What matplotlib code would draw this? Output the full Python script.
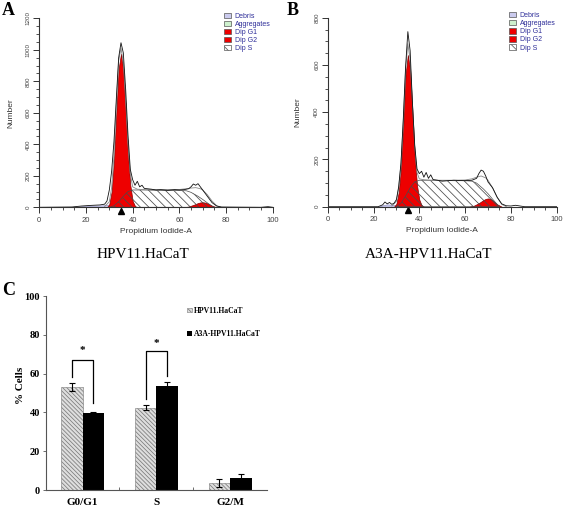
import numpy as np
import matplotlib
matplotlib.use('Agg')
import matplotlib.pyplot as plt
from matplotlib.patches import Patch
from matplotlib.ticker import MultipleLocator, FixedLocator

plt.rcParams['hatch.linewidth'] = 0.55

# ---- flow cytometry histograms ----
g1_x = [29, 30, 31, 32, 33, 34, 35, 36, 37, 38, 39, 40, 41, 42]
s_x = [30, 32, 34, 36, 38, 40, 45, 50, 55, 60, 63, 65, 68, 70, 72, 74, 75]
g2_x = [62, 64, 66, 68, 69, 70, 71, 72, 74, 76]
fit_x = [28, 30, 31, 32, 33, 34, 35, 36, 37, 38, 39, 40, 42, 45, 50, 55, 60,
         63, 65, 67, 69, 70, 72, 74, 76, 78]

# panel A : HPV11.HaCaT
a_g1 = [0, 20, 100, 300, 600, 880, 975, 870, 620, 340, 140, 40, 8, 0]
a_s = [0, 10, 35, 70, 100, 110, 110, 108, 107, 106, 105, 95, 70, 50, 28, 8, 0]
a_g2 = [0, 5, 15, 27, 31, 32, 30, 25, 10, 0]
a_deb_x = [14, 18, 22, 26, 30, 34, 38, 40]
a_deb = [0, 6, 10, 12, 14, 10, 4, 0]
a_fit = [5, 35, 125, 330, 650, 930, 1010, 920, 680, 400, 210, 130, 115, 112,
         112, 112, 113, 118, 122, 125, 118, 110, 80, 40, 10, 0]
a_env_x = [0, 14, 18, 22, 26, 28, 29, 30, 31, 32, 33, 34, 35, 36, 37, 38, 39,
           40, 41, 42, 43, 44, 45, 48, 50, 52, 55, 58, 60, 62, 64, 65, 66, 67,
           68, 69, 70, 72, 74, 76, 78, 85, 95, 98, 100]
a_env = [0, 2, 8, 12, 15, 20, 40, 110, 230, 420, 690, 950, 1045, 980, 750, 460,
         240, 175, 140, 165, 130, 140, 120, 115, 110, 112, 108, 112, 110, 112,
         118, 130, 148, 140, 150, 130, 110, 70, 30, 8, 2, 1, 0, 4, 0]

# panel B : A3A-HPV11.HaCaT
b_g1 = [0, 12, 60, 160, 340, 560, 642, 580, 400, 215, 90, 30, 6, 0]
b_s = [0, 15, 45, 80, 105, 112, 112, 111, 110, 110, 108, 100, 75, 55, 32, 10, 0]
b_g2 = [0, 5, 15, 28, 33, 35, 33, 27, 10, 0]
b_deb_x = [22, 24, 26, 28, 30, 32, 34]
b_deb = [0, 6, 10, 8, 6, 3, 0]
b_fit = [3, 22, 80, 180, 360, 580, 690, 620, 440, 255, 145, 118, 114, 112,
         112, 112, 113, 118, 125, 130, 122, 112, 80, 40, 10, 0]
b_env_x = [0, 22, 24, 25, 26, 27, 28, 29, 30, 31, 32, 33, 34, 35, 36, 37, 38,
           39, 40, 41, 42, 43, 44, 45, 46, 48, 50, 55, 60, 63, 65, 66, 67, 68,
           69, 70, 72, 74, 76, 78, 80, 82, 84, 86, 100]
b_env = [0, 0, 8, 20, 12, 18, 10, 15, 30, 85, 185, 370, 590, 741, 660, 440,
         260, 160, 140, 150, 125, 145, 120, 135, 115, 112, 108, 112, 110, 112,
         120, 140, 155, 150, 130, 105, 80, 40, 12, 4, 3, 6, 3, 0, 0]

g1_mark = 35
legend_labels = ['Debris', 'Aggregates', 'Dip G1', 'Dip G2', 'Dip S']

# ---- cell cycle bars ----
phases = ['G0/G1', 'S', 'G2/M']
hpv = [53.0, 42.5, 3.7]
hpv_err = [2.0, 1.5, 2.0]
a3a = [39.8, 53.7, 6.3]
a3a_err = [0.6, 2.0, 2.2]
sig_idx = [0, 1]
sig_top = [67, 71.5]
sig_left = [58.4, 47]
sig_right = [45, 59]
star_y = [72, 75.5]

RED = '#ee0000'
SANS = 'Liberation Sans'
SERIF = 'Liberation Serif'
W, H = 567, 509


def px_axes(fig, x0, x1, ytop, ybot):
    return fig.add_axes([x0 / W, 1 - ybot / H, (x1 - x0) / W, (ybot - ytop) / H])


def draw_hist(ax, ymax, ymin_step, g1, s, g2, deb_x, deb, fit, env_x, env):
    ax.fill_between(deb_x, deb, facecolor='#cbcbee', edgecolor='#8888bb', lw=0.4)
    ax.fill_between(g1_x, g1, facecolor=RED, edgecolor='#880000', lw=0.5)
    ax.fill_between(g2_x, g2, facecolor=RED, edgecolor='#880000', lw=0.5)
    ax.fill_between(s_x, s, facecolor='none', edgecolor='#4a4a4a',
                    hatch='\\\\\\\\', lw=0.5)
    ax.plot(fit_x, fit, color='#888888', lw=0.6)
    ax.plot(env_x, env, color='#111111', lw=0.6)
    ax.plot([g1_mark], [-0.018], marker='^', color='black', ms=4,
            transform=ax.get_xaxis_transform(), clip_on=False)

    ax.set_xlim(0, 100)
    ax.set_ylim(0, ymax)
    for side in ['top', 'right']:
        ax.spines[side].set_visible(False)
    for side in ['left', 'bottom']:
        ax.spines[side].set_color('#333333')
        ax.spines[side].set_linewidth(0.8)
    ax.xaxis.set_major_locator(MultipleLocator(20))
    ax.xaxis.set_minor_locator(MultipleLocator(5))
    ax.yaxis.set_major_locator(MultipleLocator(200))
    ax.yaxis.set_minor_locator(MultipleLocator(ymin_step))
    ax.tick_params(which='major', length=4, width=0.7, color='#333333',
                   labelcolor='#444444')
    ax.tick_params(which='minor', length=2.3, width=0.6, color='#333333')
    ax.tick_params(axis='x', labelsize=5.5, pad=3)
    ax.tick_params(axis='y', labelsize=4.5, pad=2)
    for lab in ax.get_xticklabels():
        lab.set_family(SANS)
    for lab in ax.get_yticklabels():
        lab.set_family(SANS)
        lab.set_rotation(90)
        lab.set_va('center')

    ax.set_xlabel('Propidium Iodide-A', fontsize=6, family=SANS, color='#333333')
    ax.set_ylabel('Number', fontsize=6, family=SANS, color='#333333')

    handles = [Patch(facecolor='#cbcbee', edgecolor='#555555', lw=0.5),
               Patch(facecolor='#cdf0cd', edgecolor='#555555', lw=0.5),
               Patch(facecolor=RED, edgecolor='#555555', lw=0.5),
               Patch(facecolor=RED, edgecolor='#555555', lw=0.5),
               Patch(facecolor='white', edgecolor='#555555', lw=0.5,
                     hatch='\\\\\\')]
    return handles


fig = plt.figure(figsize=(W / 100, H / 100), dpi=100)

ax_a = px_axes(fig, 39.3, 272.7, 18.3, 207.3)
h = draw_hist(ax_a, 1200, 50, a_g1, a_s, a_g2, a_deb_x, a_deb, a_fit, a_env_x, a_env)
ax_a.xaxis.set_label_coords(0.5, -0.11)
ax_a.yaxis.set_label_coords(-0.108, 0.5)
ax_a.legend(h, legend_labels, loc='upper left', bbox_to_anchor=(0.79, 1.03),
            frameon=False, prop=dict(family=SANS, size=5), labelcolor='#2e2e99',
            handlelength=1.1, handleheight=0.8, handletextpad=0.5,
            labelspacing=0.15, borderpad=0, borderaxespad=0)

ax_b = px_axes(fig, 327.7, 556.7, 17.7, 206.7)
h = draw_hist(ax_b, 800, 50, b_g1, b_s, b_g2, b_deb_x, b_deb, b_fit, b_env_x, b_env)
ax_b.xaxis.set_label_coords(0.5, -0.11)
ax_b.yaxis.set_label_coords(-0.117, 0.5)
ax_b.legend(h, legend_labels, loc='upper left', bbox_to_anchor=(0.79, 1.03),
            frameon=False, prop=dict(family=SANS, size=5), labelcolor='#2e2e99',
            handlelength=1.1, handleheight=0.8, handletextpad=0.5,
            labelspacing=0.15, borderpad=0, borderaxespad=0)

fig.text(143 / W, 1 - 255 / H, 'HPV11.HaCaT', ha='center', va='center',
         family=SERIF, size=11)
fig.text(429 / W, 1 - 255 / H, 'A3A-HPV11.HaCaT', ha='center', va='center',
         family=SERIF, size=11)

# ---- panel C ----
ax_c = px_axes(fig, 45.7, 267, 296, 490)
x = np.arange(len(phases)) + 0.5
w = 0.29
b1 = ax_c.bar(x - w / 2, hpv, w, yerr=hpv_err, facecolor='#dedede',
              edgecolor='#7a7a7a', hatch='\\\\\\\\\\\\\\\\', lw=0.4,
              error_kw=dict(ecolor='black', elinewidth=0.8, capsize=2, capthick=0.8),
              label='HPV11.HaCaT')
b2 = ax_c.bar(x + w / 2, a3a, w, yerr=a3a_err, color='black',
              error_kw=dict(ecolor='black', elinewidth=0.8, capsize=2, capthick=0.8),
              label='A3A-HPV11.HaCaT')

for i, top, lb, rb, sy in zip(sig_idx, sig_top, sig_left, sig_right, star_y):
    xl, xr = x[i] - w / 2, x[i] + w / 2
    ax_c.plot([xl, xl, xr, xr], [lb, top, top, rb], color='black', lw=0.9)
    ax_c.text(x[i], sy, '*', ha='center', va='center', family=SERIF,
              weight='bold', size=8)

ax_c.set_xlim(0, 3)
ax_c.set_ylim(0, 100)
for side in ['top', 'right']:
    ax_c.spines[side].set_visible(False)
for side in ['left', 'bottom']:
    ax_c.spines[side].set_color('#555555')
    ax_c.spines[side].set_linewidth(0.8)
ax_c.set_xticks(x)
ax_c.set_xticklabels(phases)
ax_c.xaxis.set_minor_locator(FixedLocator([1, 2]))
ax_c.tick_params(axis='x', which='major', length=0, pad=6)
ax_c.tick_params(axis='x', which='minor', direction='in', length=2.5,
                 width=0.6, color='#555555')
ax_c.set_yticks(np.arange(0, 101, 20))
ax_c.tick_params(axis='y', direction='out', length=2, width=0.6,
                 color='#555555', pad=2)
for lab in ax_c.get_xticklabels():
    lab.set_family(SERIF)
    lab.set_weight('bold')
    lab.set_size(8)
for lab in ax_c.get_yticklabels():
    lab.set_family(SERIF)
    lab.set_weight('bold')
    lab.set_size(7.5)
ax_c.set_ylabel('% Cells', family=SERIF, weight='bold', size=8)
ax_c.yaxis.set_label_coords(-0.094, 0.54)
ax_c.legend(handles=[b1, b2], loc='upper left', bbox_to_anchor=(0.64, 0.945),
            frameon=False, prop=dict(family=SERIF, weight='bold', size=5.5),
            handlelength=0.6, handleheight=0.6, handletextpad=0.2,
            labelspacing=2.0, borderpad=0, borderaxespad=0)

fig.text(1.7 / W, 1 - 2 / H, 'A', ha='left', va='top', family=SERIF,
         weight='bold', size=13)
fig.text(287 / W, 1 - 2 / H, 'B', ha='left', va='top', family=SERIF,
         weight='bold', size=13)
fig.text(1.7 / W, 1 - 282 / H, 'C', ha='left', va='top', family=SERIF,
         weight='bold', size=13)

fig.savefig('out.png', dpi=100)
